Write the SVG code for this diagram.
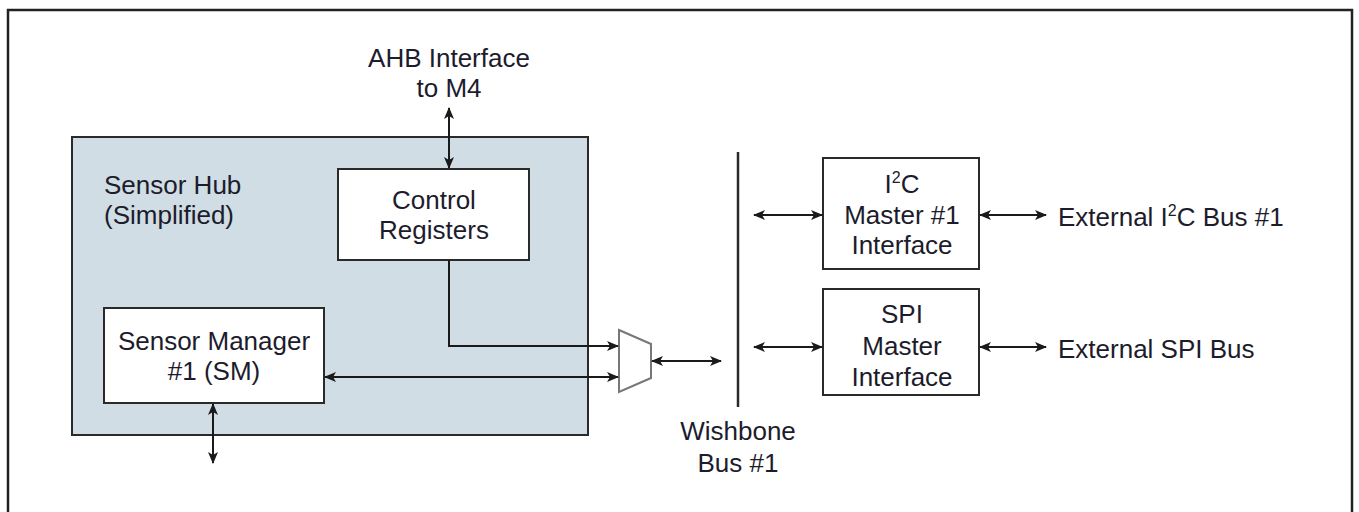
<svg xmlns="http://www.w3.org/2000/svg" width="1359" height="512" viewBox="0 0 1359 512">
  <defs>
    <marker id="arr" viewBox="0 0 12 10" refX="11" refY="5" markerWidth="12" markerHeight="10" markerUnits="userSpaceOnUse" orient="auto-start-reverse">
      <path d="M0,0 L12,5 L0,10 L3,5 Z" fill="#1a1a1a"/>
    </marker>
    <style>
      .frame { fill: #ffffff; stroke: #222222; stroke-width: 2.5; }
      .hub { fill: #d0dde4; stroke: #2a2a2a; stroke-width: 2; }
      .box { fill: #ffffff; stroke: #2a2a2a; stroke-width: 2; }
      .mux { fill: #ffffff; stroke: #777777; stroke-width: 2; }
      .wire { fill: none; stroke: #1a1a1a; stroke-width: 2; }
      .bi { marker-start: url(#arr); marker-end: url(#arr); }
      .uni { marker-end: url(#arr); }
      .bus { stroke: #2a2a2a; stroke-width: 2.5; }
      text { font-family: "Liberation Sans", Arial, sans-serif; font-size: 26px; fill: #1c1c2c; }
      .c { text-anchor: middle; }
      .sup { font-size: 16px; }
    </style>
  </defs>

  <rect class="frame" x="8" y="10" width="1344" height="520"/>

  <g id="sensor-hub">
    <rect class="hub" x="72" y="137" width="516" height="298"/>
    <text x="104" y="194">Sensor Hub</text>
    <text x="104" y="224">(Simplified)</text>
  </g>

  <g id="control-registers">
    <rect class="box" x="338" y="169" width="191" height="91"/>
    <text class="c" x="434" y="209">Control</text>
    <text class="c" x="434" y="239">Registers</text>
  </g>

  <g id="sensor-manager">
    <rect class="box" x="104" y="308" width="220" height="95"/>
    <text class="c" x="214" y="350">Sensor Manager</text>
    <text class="c" x="214" y="380">#1 (SM)</text>
  </g>

  <g id="mux">
    <polygon class="mux" points="619,330 651,344 651,378 619,392"/>
  </g>

  <g id="wishbone-bus">
    <line class="bus" x1="738" y1="152" x2="738" y2="407"/>
    <text class="c" x="738" y="440">Wishbone</text>
    <text class="c" x="738" y="472">Bus #1</text>
  </g>

  <g id="i2c-master">
    <rect class="box" x="823" y="158" width="156" height="111"/>
    <text class="c" x="902" y="193">I<tspan class="sup" dy="-10">2</tspan><tspan dy="10">C</tspan></text>
    <text class="c" x="902" y="224">Master #1</text>
    <text class="c" x="902" y="254">Interface</text>
  </g>

  <g id="spi-master">
    <rect class="box" x="823" y="289" width="156" height="106"/>
    <text class="c" x="902" y="323">SPI</text>
    <text class="c" x="902" y="355">Master</text>
    <text class="c" x="902" y="386">Interface</text>
  </g>

  <g id="ahb-label">
    <text class="c" x="449" y="67">AHB Interface</text>
    <text class="c" x="449" y="97">to M4</text>
  </g>

  <g id="ext-i2c-label">
    <text x="1058" y="226">External I<tspan class="sup" dy="-10">2</tspan><tspan dy="10">C Bus #1</tspan></text>
  </g>

  <g id="ext-spi-label">
    <text x="1058" y="358">External SPI Bus</text>
  </g>

  <g id="connectors">
    <!-- AHB to control registers -->
    <line class="wire bi" x1="449" y1="108" x2="449" y2="168"/>
    <!-- control registers into mux -->
    <polyline class="wire uni" points="449,260 449,346 618,346"/>
    <!-- sensor manager to mux -->
    <line class="wire bi" x1="325" y1="377" x2="618" y2="377"/>
    <!-- mux to wishbone -->
    <line class="wire bi" x1="652" y1="361" x2="721" y2="361"/>
    <!-- sensor manager external -->
    <line class="wire bi" x1="213" y1="404" x2="213" y2="463"/>
    <!-- bus to I2C / SPI masters -->
    <line class="wire bi" x1="754" y1="215" x2="822" y2="215"/>
    <line class="wire bi" x1="754" y1="347" x2="822" y2="347"/>
    <!-- masters to external buses -->
    <line class="wire bi" x1="980" y1="215" x2="1046" y2="215"/>
    <line class="wire bi" x1="980" y1="347" x2="1046" y2="347"/>
  </g>
</svg>
